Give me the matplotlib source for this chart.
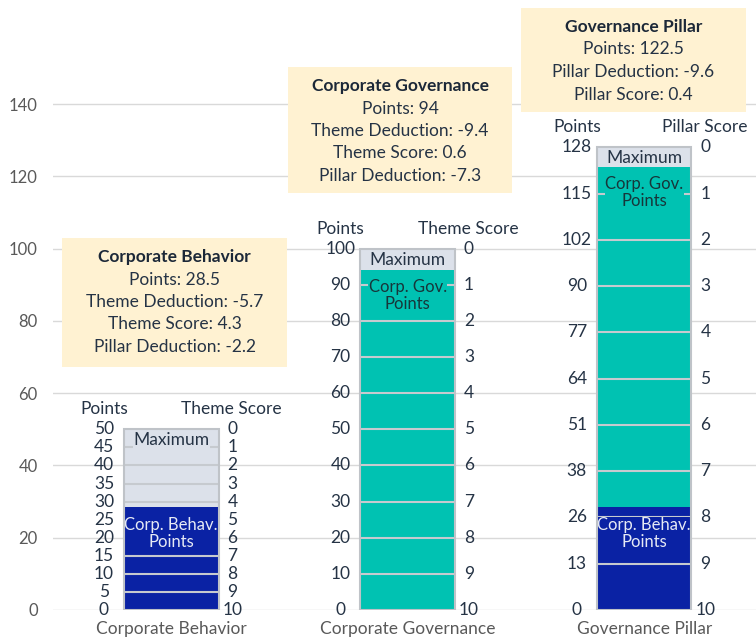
import matplotlib
matplotlib.use("Agg")
import matplotlib.pyplot as plt
from matplotlib.patches import Rectangle
import numpy as np

plt.rcParams['font.family'] = ['Lato', 'DejaVu Sans']

# chart data
categories = ["Corporate Behavior", "Corporate Governance", "Governance Pillar"]
max_points = [50, 100, 128]
behav_points = [28.5, 0, 28.5]
gov_points = [0, 94, 94]
segment_step = [5, 10, 12.8]
left_ticks = [
    ["0", "5", "10", "15", "20", "25", "30", "35", "40", "45", "50"],
    ["0", "10", "20", "30", "40", "50", "60", "70", "80", "90", "100"],
    ["0", "13", "26", "38", "51", "64", "77", "90", "102", "115", "128"],
]
right_ticks = [str(i) for i in range(11)][::-1]
left_titles = ["Points", "Points", "Points"]
right_titles = ["Theme Score", "Theme Score", "Pillar Score"]
main_ticks = [0, 20, 40, 60, 80, 100, 120, 140]

box_titles = ["Corporate Behavior", "Corporate Governance", "Governance Pillar"]
box_lines = [
    ["Points: 28.5", "Theme Deduction: -5.7", "Theme Score: 4.3", "Pillar Deduction: -2.2"],
    ["Points: 94", "Theme Deduction: -9.4", "Theme Score: 0.6", "Pillar Deduction: -7.3"],
    ["Points: 122.5", "Pillar Deduction: -9.6", "Pillar Score: 0.4"],
]

# colours
c_max = "#DCE1EA"
c_gov = "#00C2B2"
c_behav = "#0A22A4"
c_sep = "#C6CACF"
c_text = "#253345"
c_axis = "#595959"
c_box = "#FFF2D2"
fs = 12.5

W, H = 756, 643
fig = plt.figure(figsize=(W / 100, H / 100), dpi=100)
ax = fig.add_axes([53 / W, 33 / H, 703 / W, 610 / H])
ax.set_ylim(0, 168.8)
ax.set_xlim(-0.5, 2.473)
ax.set_yticks(main_ticks)
ax.yaxis.grid(True, color="#D9D9D9", lw=1)
ax.set_axisbelow(True)
for s in ax.spines.values():
    s.set_visible(False)
ax.tick_params(axis="y", length=0, pad=11, labelsize=12, labelcolor=c_axis)
x = np.arange(len(categories))
ax.set_xticks(x)
ax.set_xticklabels(categories, fontsize=12.5, color=c_axis)
ax.tick_params(axis="x", length=0, pad=8)

bw = 0.4
px = 0.72  # pixels -> points

for i in range(len(categories)):
    top = max_points[i]
    outline = ax.bar(x[i], top, bw, color=c_max, edgecolor="none", zorder=2)[0]
    if behav_points[i]:
        ax.bar(x[i], behav_points[i], bw, color=c_behav, zorder=3)
    if gov_points[i]:
        ax.bar(x[i], gov_points[i], bw, bottom=behav_points[i], color=c_gov, zorder=3)
    # segment separators
    seps = np.arange(1, 10) * segment_step[i]
    ax.hlines(seps, x[i] - bw / 2, x[i] + bw / 2, color=c_sep, lw=1.5, zorder=4)
    ax.bar(x[i], top, bw, color="none", edgecolor="#BFC3C8", lw=1.5, zorder=6)

    filled = behav_points[i] + gov_points[i]
    labels = [ax.annotate("Maximum", (x[i], top), xytext=(0, -11 * px), textcoords="offset points",
                          ha="center", va="center", fontsize=fs, color=c_text, zorder=5,
                          bbox=dict(boxstyle="square,pad=0.02", fc=c_max, ec="none"))]
    if gov_points[i]:
        labels.append(ax.annotate("Corp. Gov.\nPoints", (x[i], filled), xytext=(0, -9 * px),
                                  textcoords="offset points", ha="center", va="top", fontsize=12,
                                  color="#17363A", linespacing=1.05, zorder=5,
                                  bbox=dict(boxstyle="square,pad=0.02", fc=c_gov, ec="none")))
    if behav_points[i]:
        labels.append(ax.annotate("Corp. Behav.\nPoints", (x[i], behav_points[i]), xytext=(0, -10 * px),
                                  textcoords="offset points", ha="center", va="top", fontsize=12,
                                  color="#E6EAF5", linespacing=1.05, zorder=5,
                                  bbox=dict(boxstyle="square,pad=0.02", fc=c_behav, ec="none")))
    for t in labels:
        t.set_clip_path(outline)

    # small axes on each side of the bar
    vals = np.linspace(0, top, 11)
    for v, lt, rt in zip(vals, left_ticks[i], right_ticks):
        ax.annotate(lt, (x[i] - bw / 2, v), xytext=(-20 * px, 0), textcoords="offset points",
                    ha="center", va="center", fontsize=fs, color=c_text, annotation_clip=False)
        ax.annotate(rt, (x[i] + bw / 2, v), xytext=(14 * px, 0), textcoords="offset points",
                    ha="center", va="center", fontsize=fs, color=c_text, annotation_clip=False)
    ax.annotate(left_titles[i], (x[i] - bw / 2, top), xytext=(-20 * px, 20 * px),
                textcoords="offset points", ha="center", va="center", fontsize=fs, color=c_text)
    ax.annotate(right_titles[i], (x[i] + bw / 2, top), xytext=(13 * px, 20 * px),
                textcoords="offset points", ha="center", va="center", fontsize=fs, color=c_text)

# info boxes (pixel layout)
boxes = [(62, 238, 287, 367), (288, 67, 512, 193), (521, 8, 746, 112)]
for (x0, y0, x1, y1), title, lines in zip(boxes, box_titles, box_lines):
    fig.patches.append(Rectangle((x0 / W, 1 - y1 / H), (x1 - x0) / W, (y1 - y0) / H,
                                 transform=fig.transFigure, fc=c_box, ec="none", zorder=5))
    cx = (x0 + x1) / 2 / W
    ty = y0 + 19
    fig.text(cx, 1 - ty / H, title, ha="center", va="center", fontsize=fs,
             fontweight="bold", color="#1C2838", zorder=6)
    for k, line in enumerate(lines):
        fig.text(cx, 1 - (ty + 22.5 * (k + 1)) / H, line, ha="center", va="center",
                 fontsize=fs, color=c_text, zorder=6)

fig.savefig("out.png", dpi=100)
